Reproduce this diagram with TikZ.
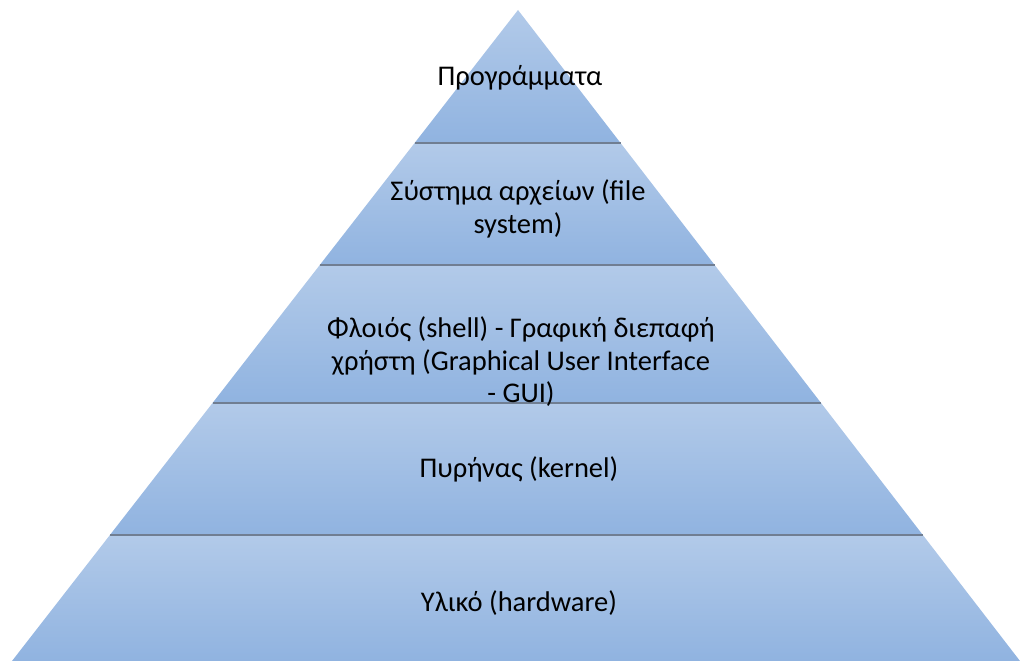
\documentclass[tikz,border=0pt]{standalone}
\usepackage{fontspec}
\setmainfont{Carlito}
\usetikzlibrary{calc}
\definecolor{laytop}{RGB}{178,202,233}
\definecolor{laybot}{RGB}{144,179,224}
\definecolor{sepline}{RGB}{112,126,146}

\begin{document}
\begin{tikzpicture}[x=1pt,y=-1pt,
   layer/.style={top color=laytop, bottom color=laybot},
   sep/.style={draw=sepline, line width=1.6pt},
   lab/.style={align=center, font=\fontsize{28.5}{32.5}\selectfont, text=black}]
   \useasboundingbox (0,0) rectangle (1020,661);
   \coordinate (apex) at (518,10);
   \coordinate (bl) at (12,661);
   \coordinate (br) at (1020,661);
   % layer borders on the two slopes
   \coordinate (l1) at ($(apex)!0.2043!(bl)$);
   \coordinate (r1) at ($(apex)!0.2043!(br)$);
   \coordinate (l2) at ($(apex)!0.3920!(bl)$);
   \coordinate (r2) at ($(apex)!0.3920!(br)$);
   \coordinate (l3) at ($(apex)!0.6037!(bl)$);
   \coordinate (r3) at ($(apex)!0.6037!(br)$);
   \coordinate (l4) at ($(apex)!0.8065!(bl)$);
   \coordinate (r4) at ($(apex)!0.8065!(br)$);

   \shade[layer] (apex) -- (r1) -- (l1) -- cycle;
   \shade[layer] (l1) -- (r1) -- (r2) -- (l2) -- cycle;
   \shade[layer] (l2) -- (r2) -- (r3) -- (l3) -- cycle;
   \shade[layer] (l3) -- (r3) -- (r4) -- (l4) -- cycle;
   \shade[layer] (l4) -- (r4) -- (br) -- (bl) -- cycle;

   \draw[sep] (l1) -- (r1);
   \draw[sep] (l2) -- (r2);
   \draw[sep] (l3) -- (r3);
   \draw[sep] (l4) -- (r4);

   \node (progs) at (520,78) [lab] {Προγράμματα};
   \node (files) at (518,209) [lab] {Σύστημα αρχείων (file\\system)};
   \node (shell) at (521,362) [lab] {Φλοιός (shell) - Γραφική διεπαφή\\χρήστη (Graphical User Interface\\- GUI)};
   \node (kernel) at (519,469) [lab] {Πυρήνας (kernel)};
   \node (hw) at (519,603) [lab] {Υλικό (hardware)};
\end{tikzpicture}
\end{document}
